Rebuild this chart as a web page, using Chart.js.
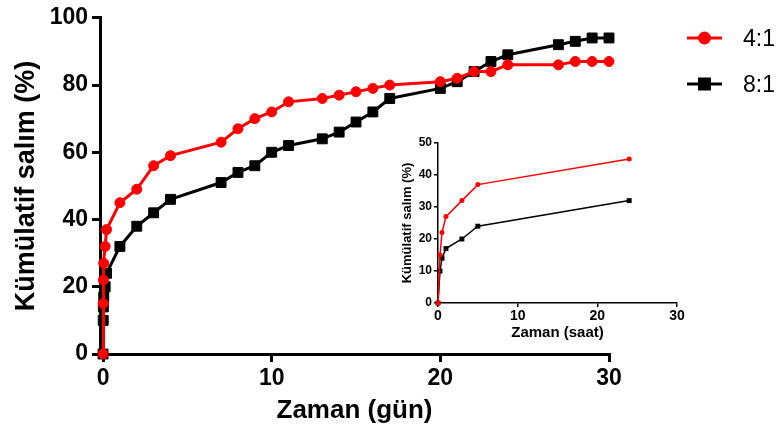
<!DOCTYPE html>
<html>
<head>
<meta charset="utf-8">
<title>Kümülatif salım</title>
<script src="https://cdn.jsdelivr.net/npm/chart.js"></script>
<style>
  html, body { margin: 0; padding: 0; background: #fff; }
  #wrap { position: relative; width: 781px; height: 443px; }
  #main { position: absolute; left: 0; top: 0; }
  #inset { position: absolute; left: 370px; top: 125px; }
</style>
</head>
<body>
<div id="wrap">
  <canvas id="main" width="781" height="443"></canvas>
  <canvas id="inset" width="320" height="220"></canvas>
</div>
<script>
// release over 30 days (first points are the 0.25, 0.5, 1, 3 and 5 hour samples)
const days = [0, 0.0104, 0.0208, 0.0417, 0.125, 0.208, 1, 2, 3, 4, 7, 8, 9, 10, 11,
              13, 14, 15, 16, 17, 20, 21, 22, 23, 24, 27, 28, 29, 30];
const release41 = [0, 15, 22, 27, 32, 37, 45, 49, 56, 59, 63, 67, 70, 72, 75,
                   76, 77, 78, 79, 80, 81, 82, 84, 84, 86, 86, 87, 87, 87];
const release81 = [0, 10, 14, 17, 20, 24, 32, 38, 42, 46, 51, 54, 56, 60, 62,
                   64, 66, 69, 72, 76, 79, 81, 84, 87, 89, 92, 93, 94, 94];

// first 24 hours
const hours = [0, 0.25, 0.5, 1, 3, 5, 24];
const early41 = [0, 15, 22, 27, 32, 37, 45];
const early81 = [0, 10, 14, 17, 20, 24, 32];

const seriesNames = ['4:1', '8:1'];
const dayTicks = [0, 10, 20, 30];
const RED = '#ff0000';
const BLACK = '#000000';
const FONT = "'Liberation Sans', Arial, sans-serif";

const toXY = (xs, ys) => xs.map((x, i) => ({ x: x, y: ys[i] }));

// legend at the right: line with marker and label
const sideLegend = {
  id: 'sideLegend',
  afterDraw(chart) {
    const ctx = chart.ctx;
    chart.data.datasets.forEach((ds, i) => {
      const y = 38 + i * 46;
      ctx.save();
      ctx.strokeStyle = ds.borderColor;
      ctx.lineWidth = 3;
      ctx.beginPath();
      ctx.moveTo(687, y);
      ctx.lineTo(722, y);
      ctx.stroke();
      ctx.fillStyle = ds.borderColor;
      Chart.helpers.drawPoint(ctx, {
        pointStyle: ds.pointStyle, radius: ds.pointRadius, borderWidth: 1, rotation: 0
      }, 704.5, y);
      ctx.font = '23px ' + FONT;
      ctx.fillStyle = '#000';
      ctx.textAlign = 'left';
      ctx.textBaseline = 'middle';
      ctx.fillText(ds.label, 743, y + 2);
      ctx.restore();
    });
  }
};

new Chart(document.getElementById('main'), {
  type: 'line',
  data: {
    datasets: [{
      label: seriesNames[0],
      data: toXY(days, release41),
      borderColor: RED,
      backgroundColor: RED,
      borderWidth: 3,
      pointStyle: 'circle',
      pointRadius: 5,
      pointBorderWidth: 1,
      clip: false
    }, {
      label: seriesNames[1],
      data: toXY(days, release81),
      borderColor: BLACK,
      backgroundColor: BLACK,
      borderWidth: 3,
      pointStyle: 'rect',
      pointRadius: 7,
      pointBorderWidth: 1,
      clip: false
    }]
  },
  options: {
    responsive: false,
    animation: false,
    layout: { padding: { top: 16, right: 172, left: 0, bottom: 0 } },
    scales: {
      x: {
        type: 'linear',
        min: -0.18,
        max: 30,
        afterBuildTicks: s => { s.ticks = dayTicks.map(v => ({ value: v })); },
        afterFit: s => { s.height = 89; },
        ticks: { color: '#000', font: { family: FONT, size: 23, weight: 'bold' }, padding: 3 },
        grid: { drawOnChartArea: false, tickLength: 8, lineWidth: 3, tickWidth: 3, color: '#000', tickColor: '#000' },
        border: { width: 3, color: '#000' },
        title: {
          display: true,
          text: 'Zaman (gün)',
          color: '#000',
          font: { family: FONT, size: 26, weight: 'bold' },
          padding: { top: 0, bottom: 17 }
        }
      },
      y: {
        min: 0,
        max: 100,
        afterFit: s => { s.width = 100; },
        ticks: { stepSize: 20, color: '#000', font: { family: FONT, size: 23, weight: 'bold' }, padding: 4 },
        grid: { drawOnChartArea: false, tickLength: 8, lineWidth: 3, tickWidth: 3, color: '#000', tickColor: '#000' },
        border: { width: 3, color: '#000' },
        title: {
          display: true,
          text: 'Kümülatif salım (%)',
          color: '#000',
          font: { family: FONT, size: 27, weight: 'bold' },
          padding: { top: 10, bottom: 0 }
        }
      }
    },
    plugins: {
      legend: { display: false },
      tooltip: { enabled: false }
    }
  },
  plugins: [sideLegend]
});

// inset: first 24 hours
new Chart(document.getElementById('inset'), {
  type: 'line',
  data: {
    datasets: [{
      label: seriesNames[0],
      data: toXY(hours, early41),
      borderColor: RED,
      backgroundColor: RED,
      borderWidth: 1.5,
      pointStyle: 'circle',
      pointRadius: 2.5,
      pointBorderWidth: 0,
      clip: false
    }, {
      label: seriesNames[1],
      data: toXY(hours, early81),
      borderColor: BLACK,
      backgroundColor: BLACK,
      borderWidth: 1.5,
      pointStyle: 'rect',
      pointRadius: 3.5,
      pointBorderWidth: 0,
      clip: false
    }]
  },
  options: {
    responsive: false,
    animation: false,
    layout: { padding: { top: 18, right: 13, left: 0, bottom: 0 } },
    scales: {
      x: {
        type: 'linear',
        min: 0,
        max: 30,
        afterFit: s => { s.height = 42; },
        ticks: { stepSize: 10, color: '#000', font: { family: FONT, size: 14, weight: 'bold' }, padding: 1 },
        grid: { drawOnChartArea: false, tickLength: 4, lineWidth: 1.5, tickWidth: 1.5, color: '#000', tickColor: '#000' },
        border: { width: 1.5, color: '#000' },
        title: {
          display: true,
          text: 'Zaman (saat)',
          color: '#000',
          font: { family: FONT, size: 15, weight: 'bold' },
          padding: { top: 0, bottom: 3 }
        }
      },
      y: {
        min: 0,
        max: 50,
        afterFit: s => { s.width = 68; },
        ticks: { stepSize: 10, color: '#000', font: { family: FONT, size: 12, weight: 'bold' }, padding: 2 },
        grid: { drawOnChartArea: false, tickLength: 4, lineWidth: 1.5, tickWidth: 1.5, color: '#000', tickColor: '#000' },
        border: { width: 1.5, color: '#000' },
        title: {
          display: true,
          text: 'Kümülatif salım (%)',
          color: '#000',
          font: { family: FONT, size: 13, weight: 'bold' },
          padding: { top: 30, bottom: 0 }
        }
      }
    },
    plugins: {
      legend: { display: false },
      tooltip: { enabled: false }
    }
  }
});
</script>
</body>
</html>
